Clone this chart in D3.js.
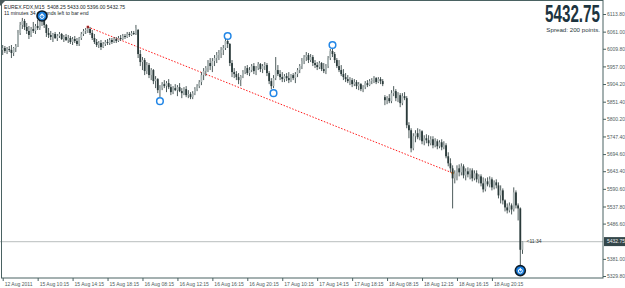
<!DOCTYPE html>
<html>
<head>
<meta charset="utf-8">
<script src="https://cdn.jsdelivr.net/npm/d3@7"></script>
<style>
  html, body { margin: 0; padding: 0; background: #fff; }
  svg { display: block; }
</style>
</head>
<body>
<div id="chart"></div>
<script>
// EUREX.FDX M15 bars, [open, high, low, close]
const ohlc = [
  [6006,6021,5991,6012],[6012,6018,5997,6003],[6003,6015,5994,6009],[6009,6018,6000,6006],
  [6006,6021,5982,5997],[5997,6015,5988,6012],[6012,6024,6000,6018],[6018,6066,6015,6057],
  [6057,6090,6051,6081],[6081,6102,6069,6093],[6093,6099,6066,6075],[6075,6087,6054,6063],
  [6063,6078,6039,6051],[6051,6075,6045,6069],[6069,6090,6057,6063],[6063,6084,6054,6078],
  [6078,6096,6066,6072],[6072,6099,6066,6090],[6090,6111,6078,6102],[6102,6105,6072,6081],
  [6081,6084,6045,6057],[6057,6072,6042,6051],[6051,6063,6036,6045],[6045,6057,6030,6054],
  [6054,6060,6039,6042],[6042,6054,6033,6048],[6048,6060,6042,6054],[6054,6057,6036,6039],
  [6039,6051,6030,6045],[6045,6054,6033,6036],[6036,6051,6027,6042],[6042,6048,6024,6030],
  [6030,6045,6021,6039],[6039,6048,6027,6033],[6033,6042,6018,6024],[6024,6045,6018,6042],
  [6042,6060,6036,6054],[6054,6069,6048,6063],[6063,6072,6054,6066],[6066,6078,6057,6069],
  [6069,6075,6051,6057],[6057,6066,6036,6042],[6042,6054,6024,6030],[6030,6039,6015,6021],
  [6021,6033,6012,6027],[6027,6036,6006,6015],[6015,6030,6012,6024],[6024,6036,6018,6030],
  [6030,6039,6021,6027],[6027,6042,6021,6036],[6036,6042,6024,6030],[6030,6045,6027,6039],
  [6039,6045,6027,6033],[6033,6048,6030,6042],[6042,6051,6033,6039],[6039,6054,6036,6048],
  [6048,6054,6039,6045],[6045,6060,6042,6054],[6054,6060,6045,6051],[6051,6063,6048,6057],
  [6057,6063,6051,6054],[6054,6081,6051,6072],[6066,6069,5982,5994],[5994,6006,5958,5970],
  [5970,5985,5946,5976],[5976,5982,5931,5943],[5943,5970,5934,5961],[5961,5967,5922,5931],
  [5931,5952,5916,5946],[5946,5949,5904,5913],[5913,5928,5892,5919],[5919,5922,5877,5886],
  [5886,5901,5865,5892],[5892,5910,5886,5904],[5904,5916,5892,5898],[5898,5913,5880,5907],
  [5907,5919,5889,5895],[5895,5904,5871,5880],[5880,5898,5874,5892],[5892,5904,5883,5886],
  [5886,5901,5868,5895],[5895,5907,5880,5883],[5883,5892,5862,5877],[5877,5895,5871,5889],
  [5889,5898,5865,5871],[5871,5886,5862,5874],[5874,5880,5859,5865],[5865,5883,5859,5877],
  [5877,5895,5871,5889],[5889,5904,5883,5898],[5898,5916,5892,5910],[5910,5940,5901,5931],
  [5931,5952,5916,5943],[5943,5958,5928,5952],[5952,5976,5940,5967],[5967,5982,5946,5958],
  [5958,5982,5940,5973],[5973,5991,5958,5982],[5982,6000,5967,5991],[5991,6006,5976,5997],
  [5997,6015,5982,6006],[6006,6021,5991,6012],[6012,6042,6006,6033],[6033,6045,6012,6024],
  [6024,6027,5958,5967],[5967,5976,5925,5940],[5940,5952,5922,5934],[5934,5943,5916,5925],
  [5925,5937,5904,5916],[5916,5931,5898,5928],[5928,5946,5922,5940],[5940,5958,5934,5952],
  [5952,5961,5931,5937],[5937,5955,5928,5946],[5946,5964,5940,5958],[5958,5967,5934,5943],
  [5943,5958,5931,5952],[5952,5970,5946,5964],[5964,5967,5940,5949],[5949,5964,5937,5958],
  [5958,5970,5946,5961],[5961,5967,5928,5937],[5937,5943,5904,5913],[5913,5922,5889,5898],
  [5898,5931,5892,5922],[5922,5985,5916,5946],[5946,5961,5928,5934],[5934,5946,5916,5925],
  [5925,5940,5910,5919],[5919,5934,5910,5928],[5928,5937,5913,5922],[5922,5940,5907,5916],
  [5916,5934,5910,5931],[5931,5937,5916,5922],[5922,5940,5907,5934],[5934,5952,5925,5946],
  [5946,5964,5937,5958],[5958,5982,5949,5973],[5973,5991,5964,5985],[5985,6000,5973,5991],
  [5991,5997,5967,5976],[5976,5994,5970,5985],[5985,5991,5958,5967],[5967,5976,5952,5961],
  [5961,5970,5946,5955],[5955,5973,5949,5967],[5967,5970,5943,5949],[5949,5967,5937,5943],
  [5943,5964,5934,5958],[5958,5988,5952,5982],[5982,6009,5976,6003],[6003,6012,5985,5994],
  [5994,6000,5967,5976],[5976,5982,5952,5958],[5958,5976,5940,5946],[5946,5961,5928,5934],
  [5934,5949,5916,5925],[5925,5937,5910,5919],[5919,5931,5907,5913],[5913,5925,5901,5916],
  [5916,5922,5895,5904],[5904,5919,5898,5910],[5910,5916,5889,5898],[5898,5910,5886,5904],
  [5904,5907,5883,5889],[5889,5901,5880,5895],[5895,5913,5889,5907],[5907,5916,5895,5901],
  [5901,5919,5898,5913],[5913,5922,5904,5916],[5916,5928,5907,5922],[5922,5925,5904,5910],
  [5910,5925,5907,5919],[5919,5925,5904,5913],[5913,5919,5898,5904],[5865,5871,5841,5856],
  [5856,5868,5844,5862],[5862,5874,5847,5853],[5853,5886,5847,5877],[5877,5898,5868,5883],
  [5883,5889,5853,5862],[5862,5880,5850,5871],[5871,5877,5835,5847],[5847,5877,5841,5868],
  [5868,5880,5856,5862],[5862,5868,5772,5781],[5781,5790,5742,5766],[5766,5772,5700,5712],
  [5712,5757,5706,5748],[5748,5766,5730,5757],[5757,5772,5739,5745],[5745,5769,5736,5763],
  [5763,5766,5724,5733],[5733,5751,5721,5742],[5742,5754,5727,5736],[5736,5751,5718,5727],
  [5727,5748,5721,5739],[5739,5748,5712,5721],[5721,5742,5715,5733],[5733,5739,5709,5718],
  [5718,5736,5712,5730],[5730,5739,5706,5715],[5715,5733,5709,5721],[5721,5727,5682,5688],
  [5688,5700,5658,5667],[5667,5682,5640,5652],[5652,5661,5532,5622],[5622,5646,5607,5637],
  [5637,5661,5616,5652],[5652,5664,5628,5640],[5640,5667,5631,5658],[5658,5664,5622,5631],
  [5631,5652,5616,5643],[5643,5655,5625,5634],[5634,5652,5619,5646],[5646,5652,5613,5622],
  [5622,5646,5616,5637],[5637,5646,5610,5619],[5619,5634,5607,5628],[5628,5634,5598,5607],
  [5607,5625,5580,5589],[5589,5622,5583,5613],[5613,5625,5598,5604],[5604,5628,5595,5619],
  [5619,5625,5586,5595],[5595,5616,5589,5610],[5610,5619,5592,5601],[5601,5610,5562,5571],
  [5571,5601,5547,5586],[5586,5592,5544,5556],[5556,5559,5523,5535],[5535,5547,5517,5526],
  [5526,5550,5520,5541],[5541,5547,5514,5529],[5529,5595,5523,5580],[5580,5586,5532,5541],
  [5541,5547,5496,5532],[5532,5535,5361,5408.25],[5408.25,5433.00,5396.00,5432.75],
];

const timeLabels = [
  "12 Aug 2011", "15 Aug 10:15", "15 Aug 14:15", "15 Aug 18:15", "16 Aug 08:15",
  "16 Aug 12:15", "16 Aug 16:15", "16 Aug 20:15", "17 Aug 10:15", "17 Aug 14:15",
  "17 Aug 18:15", "18 Aug 08:15", "18 Aug 12:15", "18 Aug 16:15", "18 Aug 20:15",
];
const barsPerLabel = 16;

const priceTicks = [6113.8, 6061.0, 6009.8, 5957.0, 5904.2, 5851.4, 5800.2, 5747.4,
  5694.6, 5643.4, 5590.6, 5537.8, 5486.6, 5381.0, 5329.8];

// zigzag swing points (bar index, price)
const swingBars = [18, 72, 103, 124, 151, 237];
const swingPrices = [6108, 5853, 6048, 5877, 6021, 5346];

// red trend line (bar index, price)
const trendBars = [39, 206];
const trendPrices = [6075, 5638];

const symbol = "EUREX.FDX,M15";
const timeLeft = "11 minutes 34 seconds left to bar end";
const spread = 200;
const barTimer = "<11:34";

const width = 625, height = 288;
const plotRight = 603, plotBottom = 278;
const font = "'Liberation Sans', Arial, sans-serif";
const fmt = d3.format(".2f");

const svg = d3.select("#chart").append("svg")
  .attr("width", width).attr("height", height)
  .attr("viewBox", [0, 0, width, height]);

const x = d3.scaleLinear().domain([0, ohlc.length - 1]).range([2.7, 522.5]);
const y = d3.scaleLinear().domain([5329.8, 6113.8]).range([276, 14]);

const last = ohlc[ohlc.length - 1];

// current price line
svg.append("line")
  .attr("x1", 0).attr("x2", plotRight)
  .attr("y1", y(last[3])).attr("y2", y(last[3]))
  .attr("stroke", "#c6caca").attr("stroke-width", 1.3);

// trend line
svg.append("line")
  .attr("x1", x(trendBars[0])).attr("y1", y(trendPrices[0]))
  .attr("x2", x(trendBars[1])).attr("y2", y(trendPrices[1]))
  .attr("stroke", "#ff1a1a").attr("stroke-width", 1)
  .attr("stroke-dasharray", "1.5,1.6");
svg.append("rect")
  .attr("x", x(trendBars[0]) - 1.2).attr("y", y(trendPrices[0]) - 1.2)
  .attr("width", 2.4).attr("height", 2.4).attr("fill", "#e01010");
svg.append("rect")
  .attr("x", x(trendBars[1]) - 1.2).attr("y", y(trendPrices[1]) - 1.2)
  .attr("width", 2.4).attr("height", 2.4).attr("fill", "#ffa020");

// candles
const bars = svg.append("g").selectAll("g").data(ohlc).join("g");
bars.append("line")
  .attr("x1", (d, i) => x(i)).attr("x2", (d, i) => x(i))
  .attr("y1", d => y(d[1])).attr("y2", d => y(d[2]))
  .attr("stroke", "#3a4a4a").attr("stroke-width", 0.9);
bars.append("rect")
  .attr("x", (d, i) => x(i) - 0.9)
  .attr("y", d => y(Math.max(d[0], d[3])))
  .attr("width", 1.8)
  .attr("height", d => Math.max(1, Math.abs(y(d[0]) - y(d[3]))))
  .attr("fill", d => d[3] >= d[0] ? "#aab4b4" : "#2a3a3a");

// frame
svg.append("rect")
  .attr("x", 1.5).attr("y", 0.5)
  .attr("width", plotRight - 1.5).attr("height", plotBottom - 0.5)
  .attr("fill", "none").attr("stroke", "#4a6262").attr("stroke-width", 1);
svg.append("path").attr("d", "M0,0L6,0L0,6Z").attr("fill", "#4a5a5a");

// price axis
const yAxis = svg.append("g")
  .attr("transform", `translate(${plotRight},0)`)
  .call(d3.axisRight(y).tickValues(priceTicks).tickFormat(fmt).tickSize(3).tickPadding(1))
  .call(g => g.select(".domain").remove());
yAxis.selectAll(".tick line").attr("stroke", "#4a6262");
yAxis.selectAll(".tick text")
  .attr("fill", "#505c5c").attr("font-size", "5px").attr("font-family", font);

// current price box
svg.append("rect")
  .attr("x", plotRight + 1).attr("y", y(last[3]) - 4.5)
  .attr("width", width - plotRight - 1).attr("height", 9)
  .attr("fill", "#34474a");
svg.append("text")
  .attr("x", plotRight + 4).attr("y", y(last[3])).attr("dy", "0.35em")
  .attr("fill", "#f0f0f0").attr("font-size", "5px").attr("font-family", font)
  .text(fmt(last[3]));

// time axis
const tickIdx = timeLabels.map((t, k) => k * barsPerLabel);
const xAxis = svg.append("g")
  .attr("transform", `translate(0,${plotBottom})`)
  .call(d3.axisBottom(x).tickValues(tickIdx)
    .tickFormat((d, k) => timeLabels[k]).tickSize(3).tickPadding(1))
  .call(g => g.select(".domain").remove());
xAxis.selectAll(".tick line").attr("stroke", "#4a6262");
xAxis.selectAll(".tick text")
  .attr("text-anchor", "start").attr("x", 1.5)
  .attr("fill", "#505c5c").attr("font-size", "5px").attr("font-family", font);

// bar timer
svg.append("text")
  .attr("x", x(ohlc.length - 1) + 4).attr("y", y(last[3])).attr("dy", "0.35em")
  .attr("fill", "#303838").attr("font-size", "5px").attr("font-family", font)
  .text(barTimer);

// header texts
svg.append("text")
  .attr("x", 4).attr("y", 8.5)
  .attr("fill", "#202828").attr("font-size", "5.1px").attr("font-family", font)
  .attr("xml:space", "preserve")
  .text(`${symbol}  ${last.map(fmt).join(" ")}`);
svg.append("text")
  .attr("x", 4).attr("y", 14.5)
  .attr("fill", "#202828").attr("font-size", "5.1px").attr("font-family", font)
  .text(timeLeft);

// swing markers (drawn over bars and header)
swingBars.forEach((b, k) => {
  const big = k === 0 || k === swingBars.length - 1;
  const cx = x(b), cy = y(swingPrices[k]);
  if (big) {
    svg.append("circle").attr("cx", cx).attr("cy", cy).attr("r", 5)
      .attr("fill", "#1a7fe0").attr("stroke", "#0e1c28").attr("stroke-width", 1.6);
    svg.append("circle").attr("cx", cx).attr("cy", cy + 0.5).attr("r", 2)
      .attr("fill", "none").attr("stroke", "#fff").attr("stroke-width", 1);
    svg.append("line").attr("x1", cx).attr("x2", cx).attr("y1", cy - 2.5).attr("y2", cy + 0.5)
      .attr("stroke", "#fff").attr("stroke-width", 1);
  } else {
    svg.append("circle").attr("cx", cx).attr("cy", cy).attr("r", 3.3)
      .attr("fill", "#fff").attr("stroke", "#2286e6").attr("stroke-width", 1.5);
  }
});

// big bid price (condensed by horizontal scaling) and spread
svg.append("text")
  .attr("transform", "translate(545,21.5) scale(0.662,1)")
  .attr("fill", "#1d3440").attr("font-size", "23px").attr("font-weight", "bold")
  .attr("font-family", font)
  .text(fmt(last[3]));
svg.append("text")
  .attr("x", 600).attr("y", 31.5).attr("text-anchor", "end")
  .attr("fill", "#2a3a40").attr("font-size", "6.2px").attr("font-family", font)
  .text(`Spread: ${spread} points.`);
</script>
</body>
</html>
